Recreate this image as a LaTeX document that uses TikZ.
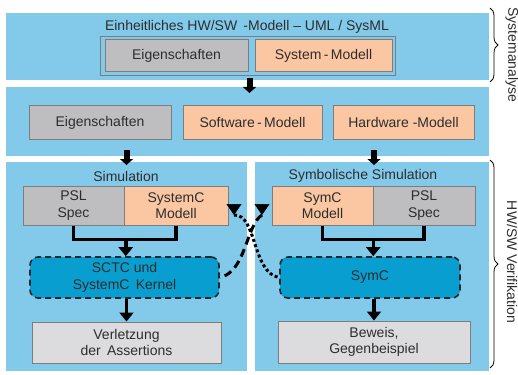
\documentclass[tikz,border=0pt]{standalone}
\usepackage{fontspec}
\setmainfont{Liberation Sans}
\usetikzlibrary{arrows.meta,decorations.pathreplacing,calc}
\definecolor{panel}{RGB}{131,202,234}
\definecolor{gboxc}{RGB}{190,190,193}
\definecolor{pboxc}{RGB}{251,199,163}
\definecolor{lboxc}{RGB}{220,220,222}
\definecolor{kboxc}{RGB}{8,158,208}
\definecolor{bord}{RGB}{125,125,125}
\definecolor{txt}{RGB}{45,45,45}
\begin{document}
\begin{tikzpicture}[x=1pt,y=-1pt,
  font=\fontsize{14}{16.5}\selectfont, text=txt,
  panelbox/.style={fill=panel,inner sep=0pt,outer sep=0pt},
  gbx/.style={fill=gboxc,draw=bord,line width=1pt,inner sep=0pt,align=center},
  pbx/.style={gbx,fill=pboxc},
  lbx/.style={gbx,fill=lboxc},
  obx/.style={draw=bord,line width=1pt,inner sep=0pt},
  kbx/.style={fill=kboxc,draw=black!85,dash pattern=on 6pt off 4pt,line width=1.6pt,
    rounded corners=8pt,align=center,inner sep=0pt},
  conn/.style={line width=3.5pt},
  arr/.style={line width=3.5pt,-{Triangle[width=14pt,length=9pt]}},
  blk/.style={line width=6pt,-{Triangle[width=13pt,length=6pt]}},
  dsh/.style={line width=3pt,dash pattern=on 8pt off 5pt},
  dtt/.style={line width=3pt,dash pattern=on 3pt off 2.5pt},
  headtri/.style={line width=0.5pt,-{Triangle[width=15pt,length=11pt]}},
  brc/.style={decorate,decoration={brace,amplitude=8pt},line width=0.8pt},
  lbl/.style={inner sep=0pt}]
\useasboundingbox (0,0) rectangle (518,374);

% panels
\node[panelbox,minimum width=483pt,minimum height=67pt] (p1) at (247.5,46.5) {};
\node[panelbox,minimum width=483pt,minimum height=69pt] (p2) at (247.5,121.5) {};
\node[panelbox,minimum width=241pt,minimum height=209pt] (lp) at (126.5,266.5) {};
\node[panelbox,minimum width=234pt,minimum height=209pt] (rp) at (372,266.5) {};

% top panel
\node[lbl] (t1) at (247,27) {Einheitliches HW/SW\ \,-Modell -- UML / SysML};
\node[obx,minimum width=295pt,minimum height=39pt] (ob) at (247.5,56.5) {};
\node[gbx,minimum width=143pt,minimum height=32pt] (e1) at (176.5,56) {Eigenschaften};
\node[pbx,minimum width=137pt,minimum height=32pt] (sm) at (323.5,56) {System\,-\,Modell};

% second panel
\node[gbx,minimum width=142pt,minimum height=33pt] (e2) at (100,122.5) {Eigenschaften};
\node[pbx,minimum width=139pt,minimum height=33pt] (sw) at (252.5,122.5) {Software\,-\,Modell};
\node[pbx,minimum width=141pt,minimum height=33pt] (hw) at (403.5,122.5) {Hardware\ -Modell};

% left panel
\node[lbl] (simt) at (126,176) {Simulation};
\node[gbx,minimum width=101pt,minimum height=39pt] (psl1) at (73.5,205.5) {PSL\\Spec};
\node[pbx,minimum width=104pt,minimum height=39pt] (scm) at (176,205.5) {SystemC\\Modell};
\node[kbx,minimum width=189pt,minimum height=41pt] (sctc) at (124.5,277.5) {SCTC und\\SystemC\ \,Kernel};
\node[lbx,minimum width=189pt,minimum height=41pt] (verl) at (126.5,342.5) {Verletzung\\der\ \,Assertions};

% right panel
\node[lbl] (symt) at (363,176) {Symbolische Simulation};
\node[pbx,minimum width=101pt,minimum height=39pt] (symm) at (322.5,205.5) {SymC\\Modell};
\node[gbx,minimum width=102pt,minimum height=39pt] (psl2) at (424,205.5) {PSL\\Spec};
\node[kbx,minimum width=180pt,minimum height=41pt] (symc) at (370,277.5) {SymC};
\node[lbx,minimum width=192pt,minimum height=42pt] (bew) at (374,342) {Beweis,\\Gegenbeispiel};

% block arrows between panels
\draw[blk] ([xshift=2pt,yshift=2pt]p1.south) -- ([xshift=2pt,yshift=-6pt]p2.north);
\draw[blk] ([yshift=6pt]p2.south -| lp.north) -- ([yshift=-3pt]lp.north);
\draw[blk] ([xshift=2pt,yshift=6pt]p2.south -| rp.north) -- ([xshift=2pt,yshift=-3pt]rp.north);

% left connectors
\draw[conn] (psl1.south) -- ++(0,14) -| (scm.south);
\coordinate (j1) at ($(psl1.south)!.5!(scm.south)+(1,14)$);
\draw[arr] (j1) -- (j1 |- sctc.north);
\draw[arr] (sctc.south -| verl.north) -- (verl.north);

% right connectors
\draw[conn] (symm.south) -- ++(0,14) -| (psl2.south);
\coordinate (j2) at ($(symm.south)!.5!(psl2.south)+(0,14)$);
\draw[arr] (j2) -- (j2 |- symc.north);
\draw[arr] (symc.south -| 374,0) -- (bew.north -| 374,0);

% cross links with their arrowheads
\coordinate (hr) at (262,215);
\coordinate (hl) at (234,215);
\draw[dsh] (hr) .. controls (246,225) and (246,272) .. (sctc.east);
\draw[dtt] (hl) .. controls (257,214) and (252,273) .. (symc.west);
\draw[headtri] ([yshift=11pt]hr) -- (hr);
\draw[headtri] ([yshift=11pt]hl) -- (hl);

% braces
\draw[brc] (490,8) -- (490,82);
\node[lbl,rotate=-90] (sa) at (512,55) {Systemanalyse};
\draw[brc] (490,160) -- (490,368);
\node[lbl,rotate=-90] (hv) at (512,262) {HW/SW Verifikation};
\end{tikzpicture}
\end{document}
